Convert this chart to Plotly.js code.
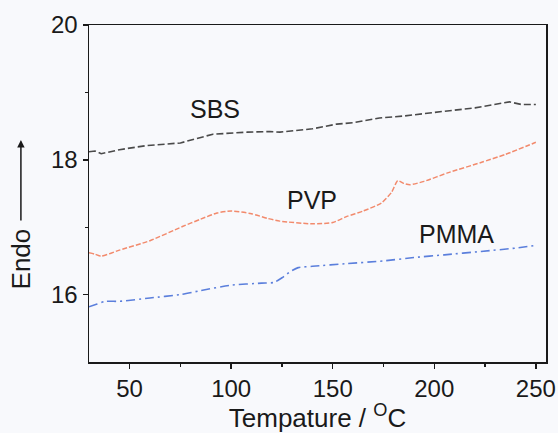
<!DOCTYPE html>
<html>
<head>
<meta charset="utf-8">
<script src="https://cdn.plot.ly/plotly-3.0.1.min.js"></script>
<style>html,body{margin:0;padding:0;background:#f8f9fc;}#chart{width:558px;height:433px;}</style>
</head>
<body>
<div id="chart"></div>
<script>
const sbsX = [30, 33, 36, 45, 58, 75, 91, 100, 108, 119, 124, 140, 152, 160, 173, 185, 190, 205, 220, 237, 243, 250];
const sbsY = [18.12, 18.13, 18.09, 18.15, 18.21, 18.25, 18.38, 18.40, 18.41, 18.42, 18.41, 18.46, 18.53, 18.55, 18.62, 18.65, 18.67, 18.72, 18.77, 18.86, 18.82, 18.82];

const pvpX = [30, 33, 36, 45, 60, 76, 85, 93, 100, 110, 118, 124, 140, 150, 157, 165, 174, 179, 182, 185, 188, 195, 207, 223, 235, 250];
const pvpY = [16.62, 16.60, 16.57, 16.66, 16.80, 17.01, 17.12, 17.21, 17.24, 17.20, 17.13, 17.09, 17.05, 17.07, 17.16, 17.24, 17.36, 17.52, 17.69, 17.65, 17.63, 17.68, 17.81, 17.96, 18.08, 18.26];

const pmmaX = [30, 34, 38, 45, 60, 75, 85, 100, 115, 121, 125, 129, 133, 140, 157, 175, 190, 205, 223, 240, 250];
const pmmaY = [15.82, 15.86, 15.90, 15.90, 15.95, 16.00, 16.06, 16.14, 16.17, 16.18, 16.25, 16.34, 16.40, 16.42, 16.46, 16.50, 16.55, 16.59, 16.64, 16.69, 16.73];

const seriesNames = ['SBS', 'PVP', 'PMMA'];
const labelX = [92, 140, 211];
const labelY = [18.76, 17.40, 16.90];

const font = 'Arial, "Liberation Sans", sans-serif';

const traces = [
  {x: sbsX, y: sbsY, mode: 'lines', name: 'SBS', line: {color: '#4a4a4a', width: 1.6, dash: '7px,3px', shape: 'linear'}},
  {x: pvpX, y: pvpY, mode: 'lines', name: 'PVP', line: {color: '#f28a6c', width: 1.5, dash: '5px,2px', shape: 'spline', smoothing: 0.6}},
  {x: pmmaX, y: pmmaY, mode: 'lines', name: 'PMMA', line: {color: '#5b7fdc', width: 1.6, dash: '9px,4px,2px,4px', shape: 'spline', smoothing: 0.6}}
];

const annotations = seriesNames.map((n, i) => ({
  x: labelX[i], y: labelY[i], xref: 'x', yref: 'y', text: n, showarrow: false,
  xanchor: 'center', yanchor: 'middle',
  font: {family: font, size: 25, color: '#1a1a1a'}
}));
annotations.push({
  xref: 'paper', yref: 'paper', x: -0.149, y: 0.307, text: 'Endo', showarrow: false,
  xanchor: 'center', yanchor: 'middle',
  textangle: -90, font: {family: font, size: 26, color: '#1a1a1a'}
});
annotations.push({
  xref: 'paper', yref: 'paper', x: -0.149, y: 0.659, ax: 0, ay: 82, text: '',
  showarrow: true, arrowhead: 2, arrowsize: 1, arrowwidth: 1.5, arrowcolor: '#1a1a1a'
});

const layout = {
  width: 558, height: 433,
  margin: {l: 89, r: 12, t: 25, b: 71},
  paper_bgcolor: '#f8f9fc', plot_bgcolor: '#f8f9fc',
  showlegend: false,
  font: {family: font, color: '#1a1a1a'},
  xaxis: {
    range: [30, 255], tickvals: [50, 100, 150, 200, 250], ticks: 'outside', ticklen: 5, tickwidth: 1.5,
    tickcolor: '#1a1a1a', showline: true, linecolor: '#1a1a1a', linewidth: 1.5, mirror: true,
    showgrid: false, zeroline: false, tickfont: {size: 24, family: font, color: '#1a1a1a'},
    minor: {tickvals: [75, 125, 175, 225], ticks: 'outside', ticklen: 3, tickwidth: 1.2, tickcolor: '#1a1a1a', showgrid: false},
    title: {text: 'Tempature / <sup>O</sup>C', font: {size: 26, family: font, color: '#1a1a1a'}, standoff: 2}
  },
  yaxis: {
    range: [15, 20], tickvals: [16, 18, 20], ticks: 'outside', ticklen: 5, tickwidth: 1.5,
    tickcolor: '#1a1a1a', showline: true, linecolor: '#1a1a1a', linewidth: 1.5, mirror: true,
    showgrid: false, zeroline: false, tickfont: {size: 24, family: font, color: '#1a1a1a'},
    minor: {tickvals: [17, 19], ticks: 'outside', ticklen: 3, tickwidth: 1.2, tickcolor: '#1a1a1a', showgrid: false}
  },
  annotations: annotations
};

Plotly.newPlot('chart', traces, layout, {displayModeBar: false, staticPlot: true});
</script>
</body>
</html>
